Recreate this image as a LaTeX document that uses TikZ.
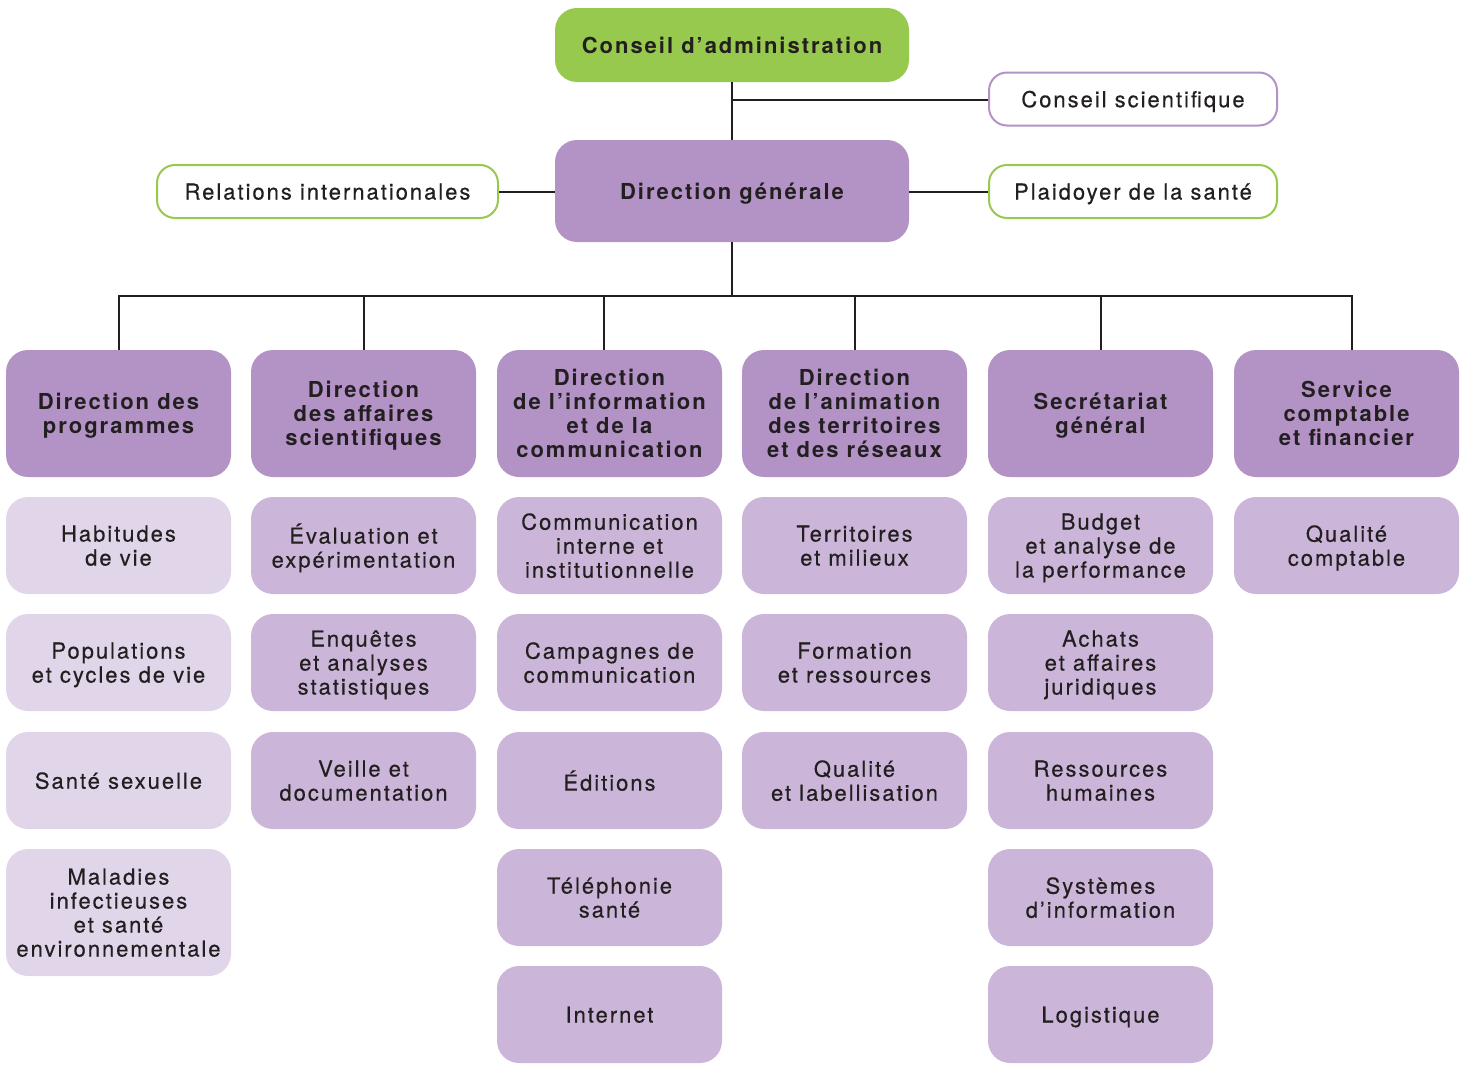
\documentclass[tikz,border=0pt]{standalone}
\usepackage{fontspec}
\setmainfont{TeX Gyre Heros}[LetterSpace=9, UprightFeatures={FakeBold=0.4}]
\definecolor{green1}{HTML}{97C94F}
\definecolor{purple1}{HTML}{B393C5}
\definecolor{purple2}{HTML}{CBB6DA}
\definecolor{purple3}{HTML}{E1D5EA}
\definecolor{ink}{HTML}{231F20}
\begin{document}
\begin{tikzpicture}[x=1pt,y=-1pt,
  base/.style={rounded corners=22pt, align=center, inner sep=0pt, text=ink,
    text depth=0pt, font=\fontsize{22}{24}\selectfont},
  topbox/.style={base, fill=green1, minimum width=354pt, minimum height=74pt,
    font=\fontsize{22}{24}\selectfont\bfseries},
  dgbox/.style={base, fill=purple1, minimum width=354pt, minimum height=102pt,
    font=\fontsize{22}{24}\selectfont\bfseries},
  sidebox/.style={base, rounded corners=18pt, fill=white, line width=2pt, minimum height=53pt},
  head/.style={base, fill=purple1, minimum width=225pt, minimum height=127pt,
    font=\fontsize{22}{24}\selectfont\bfseries},
  sub/.style={base, fill=purple2, minimum width=225pt, minimum height=97pt},
  lsub/.style={sub, fill=purple3},
  link/.style={draw=ink, line width=2pt}
]
\useasboundingbox (0,0) rectangle (1464,1068);

% top
\node[topbox] (ca) at (732,45) {Conseil d’administration};
\node[sidebox, draw=purple1, minimum width=288pt] (cs) at (1133,99) {Conseil scientifique};
\node[dgbox] (dg) at (732,191) {Direction générale};
\node[sidebox, draw=green1, minimum width=341pt] (ri) at (327.5,191.5) {Relations internationales};
\node[sidebox, draw=green1, minimum width=288pt] (pl) at (1133,191.5) {Plaidoyer de la santé};

\coordinate (cj) at (732,100);
\coordinate (bus) at (732,296);

\draw[link] (ca.south) -- (dg.north);
\draw[link] (cj) -- (cj -| cs.west);
\draw[link] (ri.east) -- (dg.west |- ri.east);
\draw[link] (dg.east |- pl.west) -- (pl.west);
\draw[link] (dg.south) -- (bus);

% headers
\node[head] (h1) at (118.5,413.5) {Direction des\\programmes};
\node[head] (h2) at (363.5,413.5) {Direction\\des affaires\\scientifiques};
\node[head] (h3) at (609.5,413.5) {Direction\\de l’information\\et de la\\communication};
\node[head] (h4) at (854.5,413.5) {Direction\\de l’animation\\des territoires\\et des réseaux};
\node[head] (h5) at (1100.5,413.5) {Secrétariat\\général};
\node[head] (h6) at (1346.5,413.5) {Service\\comptable\\et financier};

\draw[link] ([xshift=0.5pt]h1.north) |- ([xshift=5.5pt]h6.north |- bus) -- ([xshift=5.5pt]h6.north);
\draw[link] (h2.north) -- (h2.north |- bus);
\draw[link] ([xshift=-5.5pt]h3.north) -- ([xshift=-5.5pt]h3.north |- bus);
\draw[link] (h4.north) -- (h4.north |- bus);
\draw[link] (h5.north) -- (h5.north |- bus);

% column 1
\node[lsub] (s11) at (118.5,545.5) {Habitudes\\de vie};
\node[lsub] (s12) at (118.5,662.5) {Populations\\et cycles de vie};
\node[lsub] (s13) at (118.5,780.5) {Santé sexuelle};
\node[lsub, minimum height=127pt] (s14) at (118.5,912.5) {Maladies\\infectieuses\\et santé\\environnementale};

% column 2
\node[sub] (s21) at (363.5,545.5) {Évaluation et\\expérimentation};
\node[sub] (s22) at (363.5,662.5) {Enquêtes\\et analyses\\statistiques};
\node[sub] (s23) at (363.5,780.5) {Veille et\\documentation};

% column 3
\node[sub] (s31) at (609.5,545.5) {Communication\\interne et\\institutionnelle};
\node[sub] (s32) at (609.5,662.5) {Campagnes de\\communication};
\node[sub] (s33) at (609.5,780.5) {Éditions};
\node[sub] (s34) at (609.5,897.5) {Téléphonie\\santé};
\node[sub] (s35) at (609.5,1014.5) {Internet};

% column 4
\node[sub] (s41) at (854.5,545.5) {Territoires\\et milieux};
\node[sub] (s42) at (854.5,662.5) {Formation\\et ressources};
\node[sub] (s43) at (854.5,780.5) {Qualité\\et labellisation};

% column 5
\node[sub] (s51) at (1100.5,545.5) {Budget\\et analyse de\\la performance};
\node[sub] (s52) at (1100.5,662.5) {Achats\\et affaires\\juridiques};
\node[sub] (s53) at (1100.5,780.5) {Ressources\\humaines};
\node[sub] (s54) at (1100.5,897.5) {Systèmes\\d’information};
\node[sub] (s55) at (1100.5,1014.5) {Logistique};

% column 6
\node[sub] (s61) at (1346.5,545.5) {Qualité\\comptable};
\end{tikzpicture}
\end{document}
